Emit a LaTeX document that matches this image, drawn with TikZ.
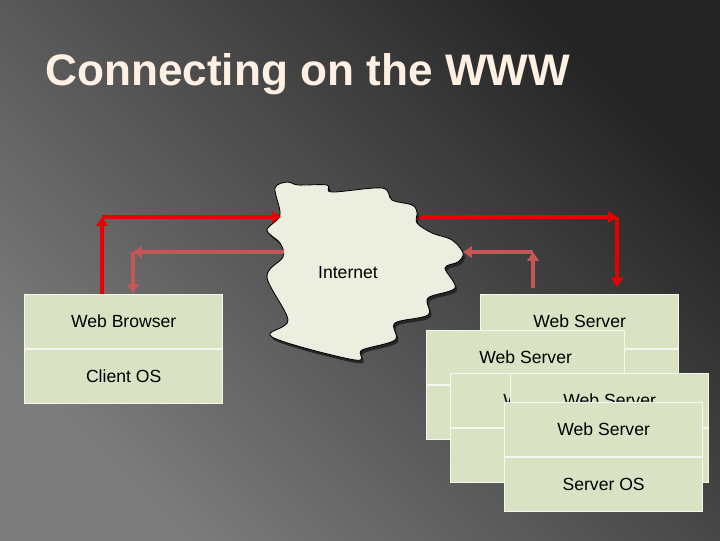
\documentclass[tikz,border=0pt]{standalone}
\usepackage{fontspec}
\setmainfont{Liberation Sans}
\usetikzlibrary{arrows.meta,calc,positioning}

\definecolor{layergreen}{RGB}{217,227,196}
\definecolor{cloudfill}{RGB}{236,238,224}
\definecolor{titlepeach}{RGB}{255,240,228}
\definecolor{hotred}{RGB}{232,0,0}
\definecolor{softred}{RGB}{198,86,86}
\definecolor{bgdark}{RGB}{36,36,36}
\definecolor{bgmid}{RGB}{68,68,68}
\definecolor{bglight}{RGB}{124,124,124}

\begin{document}
\begin{tikzpicture}[x=0.025cm,y=-0.025cm,
    every node/.style={font=\fontsize{12.5}{14}\selectfont},
    layer/.style={draw=white!70!layergreen, line width=0.6pt, fill=layergreen, text=black,
        minimum width=4.96cm, minimum height=1.35cm, inner sep=0pt},
    hot/.style={-{Triangle[length=0.22cm,width=0.28cm]}, line width=0.1cm, hotred},
    soft/.style={-{Triangle[length=0.22cm,width=0.28cm]}, line width=0.085cm, softred}]
    \useasboundingbox (0,0) rectangle (720,540);
    \shade[top color=bgdark, middle color=bgmid, bottom color=bglight, shading angle=-45] (0,0) rectangle (720,540);

    \node[font=\fontsize{31.4}{36}\selectfont\bfseries, text=titlepeach, anchor=base west, inner sep=0pt] (title) at (45,85) {Connecting on the WWW};

    % the internet cloud
    \def\cloudpath{plot[smooth cycle, tension=0.55] coordinates {(275,188) (288,182) (298,185) (327,185) (332,192) (382,188) (392,200) (412,205) (417,212) (417,223) (432,233) (452,240) (463,253) (458,262) (445,268) (455,288) (428,298) (428,315) (395,323) (395,340) (362,350) (355,360) (272,337) (288,320) (267,277) (283,257) (280,243) (267,230) (280,215)}}
    \fill[black!85, shift={(2,3)}] \cloudpath;
    \draw[fill=cloudfill, line width=0.6pt] \cloudpath;
    \node (net) at (348,273) {Internet};

    % client side
    \node[layer, anchor=north west] (browser) at (24,294) {Web Browser};
    \node[layer, below=0pt of browser] (clientos) {Client OS};

    % server farm
    \foreach \x/\y [count=\i] in {480/294, 426/330, 450/373, 510/373, 504/402} {
        \node[layer, anchor=north west] (server\i) at (\x,\y) {Web Server};
        \node[layer, below=0pt of server\i] (serveros\i) {Server OS};
    }

    \coordinate (inL) at (281,217);
    \coordinate (outL) at (284,252);
    \coordinate (outR) at (419,217);
    \coordinate (inR) at (463,252);
    \coordinate (upL) at ($(browser.north west)+(78,0)$);
    \coordinate (downL) at ($(browser.north west)+(109,-1)$);
    \coordinate (downR) at ($(server1.north west)+(137,-7)$);
    \coordinate (upR) at ($(server1.north west)+(53,-6)$);

    \draw[hot] (upL) -- (upL |- inL);
    \draw[hot] (upL |- inL) -- (inL);
    \draw[soft] (outL) -- (downL |- outL);
    \draw[soft] (downL |- outL) -- (downL);
    \draw[hot] (outR) -- (outR -| downR);
    \draw[hot] (outR -| downR) -- (downR);
    \draw[soft] (upR) -- (upR |- inR);
    \draw[soft] (upR |- inR) -- (inR);
\end{tikzpicture}
\end{document}
